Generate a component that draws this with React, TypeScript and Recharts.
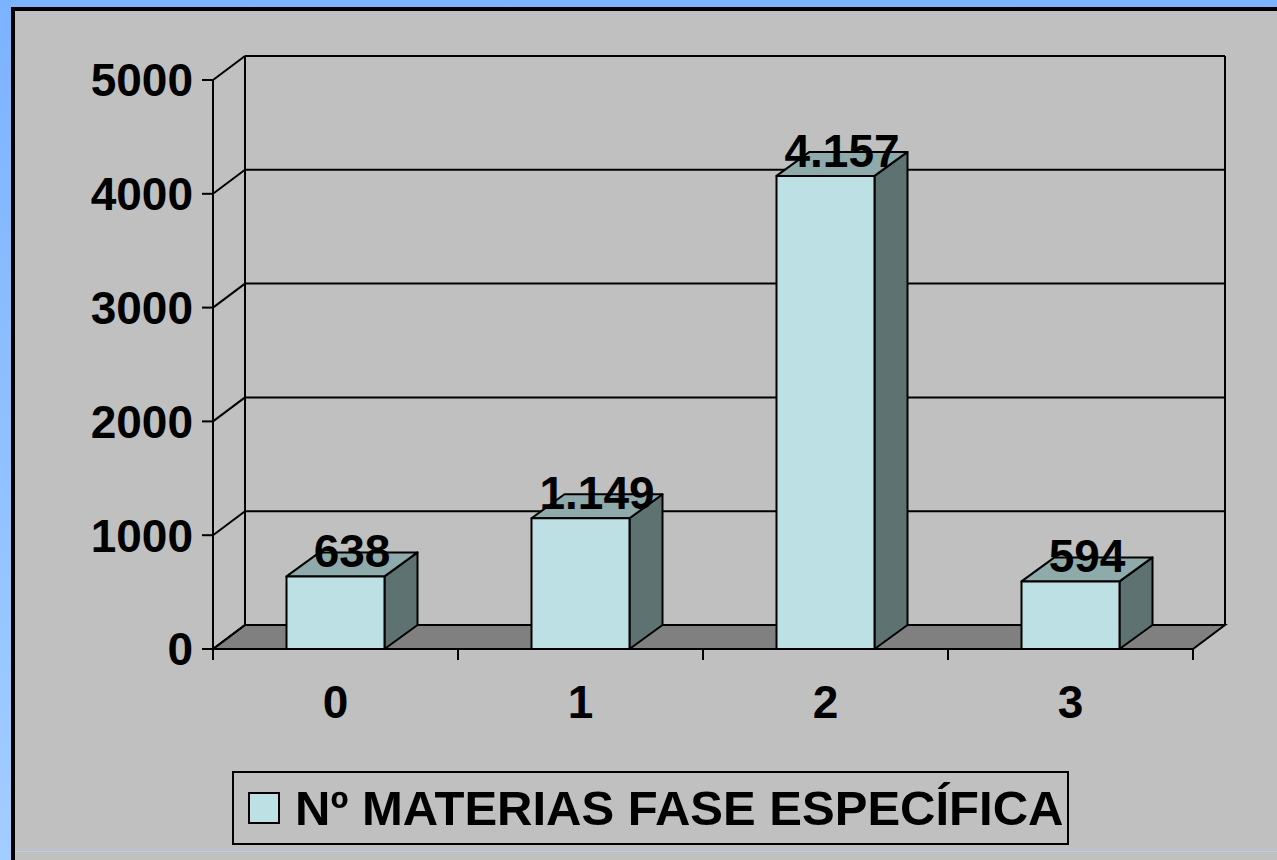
import React from 'react';
import { BarChart, Bar, XAxis, YAxis, CartesianGrid, Legend, LabelList } from 'recharts';

// data
const CATEGORIES = ['0', '1', '2', '3'];
const MATERIAS = [638, 1149, 4157, 594];
const Y_TICKS = [0, 1000, 2000, 3000, 4000, 5000];
const SERIES_NAME = 'Nº MATERIAS FASE ESPECÍFICA';

const data = CATEGORIES.map((c, i) => ({ cat: c, materias: MATERIAS[i] }));

const FONT = "'Liberation Sans', Arial, Helvetica, sans-serif";
const W = 1277;
const H = 860;
const PLOT_TOP = 80;
const PLOT_BOTTOM = 649;
const PLOT_LEFT = 213;
const PLOT_RIGHT = 1193;
const BAND = (PLOT_RIGHT - PLOT_LEFT) / CATEGORIES.length;

// 3d depth of the wall/floor and of the bars
const DX = 32;
const DY = -24;
const BX = 33;
const BY = -24;

const FRONT = '#bce0e3';
const TOP = '#8eaaab';
const SIDE = '#5e7272';
const FLOOR = '#808080';

const fmt = (v: number) => String(v).replace(/\B(?=(\d{3})+(?!\d))/g, '.');

const WallLine = (props: any) => {
    const { x1, y1, x2, index } = props;
    const isFloor = Math.abs(y1 - PLOT_BOTTOM) < 1;
    const isTop = Math.abs(y1 - PLOT_TOP) < 1;
    return (
        <g key={`wall-${index}`} stroke="#000" strokeWidth={2} fill="none">
            {isFloor && (
                <polygon
                    points={`${x1},${y1} ${x2},${y1} ${x2 + DX},${y1 + DY} ${x1 + DX},${y1 + DY}`}
                    fill={FLOOR}
                />
            )}
            {isTop && (
                <>
                    <line x1={x1 + DX} y1={y1 + DY} x2={x1 + DX} y2={PLOT_BOTTOM + DY} />
                    <line x1={x2 + DX} y1={y1 + DY} x2={x2 + DX} y2={PLOT_BOTTOM + DY} />
                </>
            )}
            <line x1={x1} y1={y1} x2={x1 + DX} y2={y1 + DY} />
            {!isFloor && <line x1={x1 + DX} y1={y1 + DY} x2={x2 + DX} y2={y1 + DY} />}
        </g>
    );
};

const Bar3D = (props: any) => {
    const { x, y, width, height } = props;
    if (!height || height <= 0) return null;
    const r = x + width;
    const b = y + height;
    return (
        <g stroke="#000" strokeWidth={2} strokeLinejoin="round">
            <polygon points={`${r},${y} ${r + BX},${y + BY} ${r + BX},${b + BY} ${r},${b}`} fill={SIDE} />
            <polygon points={`${x},${y} ${x + BX},${y + BY} ${r + BX},${y + BY} ${r},${y}`} fill={TOP} />
            <rect x={x} y={y} width={width} height={height} fill={FRONT} />
        </g>
    );
};

const ValueLabel = (props: any) => {
    const { x, y, width, value } = props;
    return (
        <text
            x={x + width / 2 + BX / 2}
            y={y - 9}
            textAnchor="middle"
            fontFamily={FONT}
            fontWeight={700}
            fontSize={46}
            fill="#000"
        >
            {fmt(value)}
        </text>
    );
};

const XTick = (props: any) => {
    const { x, y, payload, index } = props;
    const left = x - BAND / 2;
    const right = x + BAND / 2;
    return (
        <g>
            <line x1={left} y1={y} x2={left} y2={y + 11} stroke="#000" strokeWidth={2} />
            {index === CATEGORIES.length - 1 && (
                <line x1={right} y1={y} x2={right} y2={y + 11} stroke="#000" strokeWidth={2} />
            )}
            <text x={x} y={y + 69} textAnchor="middle" fontFamily={FONT} fontWeight={700} fontSize={46} fill="#000">
                {payload.value}
            </text>
        </g>
    );
};

const LegendBox = (props: any) => {
    const item = props.payload?.[0];
    return (
        <div
            style={{
                boxSizing: 'border-box', width: 837, height: 74, border: '2px solid #000',
                display: 'flex', alignItems: 'center', paddingLeft: 14, fontFamily: FONT,
            }}
        >
            <span style={{ boxSizing: 'border-box', width: 32, height: 32, background: FRONT, border: '2px solid #000' }} />
            <span style={{ marginLeft: 15, fontSize: 49, fontWeight: 700, color: '#000', whiteSpace: 'nowrap' }}>
                {item?.value ?? SERIES_NAME}
            </span>
        </div>
    );
};

export default function App() {
    return (
        <div style={{
            position: 'absolute', left: 0, top: 0, width: W, height: H, overflow: 'hidden',
            background: 'linear-gradient(180deg, #7cb3ff 0%, #a2cdff 100%)',
        }}>
            <div style={{
                position: 'absolute', left: 11, top: 7, right: 0, bottom: 0,
                background: '#c0c0c0', borderLeft: '4px solid #000', borderTop: '4px solid #000',
            }} />
            <div style={{ position: 'absolute', left: 15, right: 0, top: 851, height: 1, background: '#b4d2f5' }} />
            <div style={{ position: 'absolute', left: 0, top: 0 }}>
                <BarChart
                    width={W}
                    height={H}
                    data={data}
                    margin={{ top: PLOT_TOP, right: W - PLOT_RIGHT, bottom: H - PLOT_BOTTOM - 60, left: PLOT_LEFT - 80 }}
                    barCategoryGap="30%"
                >
                    <CartesianGrid horizontal={WallLine} vertical={false} />
                    <XAxis
                        dataKey="cat"
                        height={60}
                        axisLine={{ stroke: '#000', strokeWidth: 2 }}
                        tickLine={false}
                        tickSize={0}
                        tickMargin={0}
                        tick={<XTick />}
                        interval={0}
                    />
                    <YAxis
                        width={80}
                        domain={[0, 5000]}
                        ticks={Y_TICKS}
                        interval={0}
                        axisLine={{ stroke: '#000', strokeWidth: 2 }}
                        tickLine={{ stroke: '#000', strokeWidth: 2 }}
                        tickSize={11}
                        tickMargin={9}
                        tick={{ fill: '#000', fontSize: 46, fontWeight: 700, fontFamily: FONT }}
                    />
                    <Legend
                        layout="horizontal"
                        verticalAlign="middle"
                        align="center"
                        wrapperStyle={{ left: 232, top: 771, width: 837, height: 74 }}
                        content={<LegendBox />}
                    />
                    <Bar
                        dataKey="materias"
                        name={SERIES_NAME}
                        fill={FRONT}
                        shape={<Bar3D />}
                        isAnimationActive={false}
                    >
                        <LabelList dataKey="materias" content={<ValueLabel />} />
                    </Bar>
                </BarChart>
            </div>
        </div>
    );
}
